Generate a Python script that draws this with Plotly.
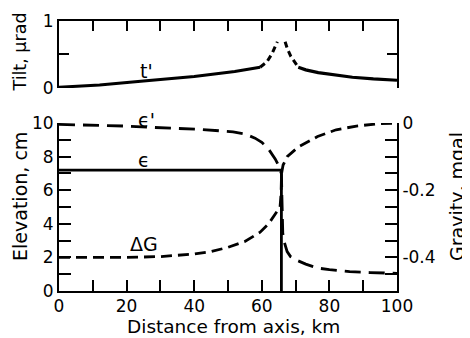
import plotly.graph_objects as go

# ---- data ----
# tilt t' (microradians), solid outer parts and dashed parts near the peak
tilt_left_x = [0, 12, 25, 40, 52, 56, 59.5]
tilt_left_y = [0.01, 0.045, 0.105, 0.17, 0.245, 0.28, 0.31]
tilt_dash_l_x = [59.5, 61.5, 63, 64, 64.6]
tilt_dash_l_y = [0.31, 0.39, 0.51, 0.61, 0.69]
tilt_dash_r_x = [66.9, 67.6, 68.6, 69.9, 70.8]
tilt_dash_r_y = [0.69, 0.58, 0.47, 0.38, 0.31]
tilt_right_x = [70.8, 73, 76.7, 81, 86.8, 93, 100]
tilt_right_y = [0.31, 0.27, 0.23, 0.195, 0.16, 0.135, 0.115]

# elevation eps' (cm)
epsp_x = [0, 10, 20, 28, 42, 51.5, 55, 58, 60, 62, 64, 65, 65.8, 65.95, 66.0, 66.2, 66.6, 67.5, 68.5, 70.7, 73, 76.4, 80, 86, 92, 100]
epsp_y = [9.92, 9.88, 9.82, 9.74, 9.62, 9.48, 9.35, 9.1, 8.85, 8.45, 7.85, 7.45, 7.0, 5.6, 4.2, 3.45, 2.95, 2.35, 2.05, 1.8, 1.6, 1.37, 1.27, 1.15, 1.1, 1.05]

# elevation eps (cm), step
eps_x = [0, 65.8, 65.8]
eps_y = [7.2, 7.2, 0]

# gravity dG (mgal)
dg_x = [0, 10, 20, 30, 40, 45, 50, 55, 59.5, 62, 64, 65.4, 65.7, 65.85, 66.3, 67.5, 70.7, 72, 76.5, 82, 88, 94, 100]
dg_y = [-0.4, -0.4, -0.4, -0.3975, -0.39, -0.3825, -0.37, -0.3525, -0.325, -0.30, -0.27, -0.25, -0.21, -0.15, -0.125, -0.10, -0.072, -0.065, -0.04, -0.02, -0.009, -0.0025, 0.0]

# ticks
x_ticks = list(range(0, 101, 10))
x_ticktext = [str(v) if v % 20 == 0 else "" for v in x_ticks]
elev_ticks = list(range(0, 11))
elev_ticktext = [str(v) if v % 2 == 0 else "" for v in elev_ticks]
grav_ticks = [-0.5, -0.45, -0.4, -0.35, -0.3, -0.25, -0.2, -0.15, -0.1, -0.05, 0.0]
grav_ticktext = ["", "", "-0.4", "", "", "", "-0.2", "", "", "", "0"]
tilt_ticks = [0, 0.5, 1]
tilt_ticktext = ["0", "", "1"]

FONT = "DejaVu Sans"
BLACK = "#000000"

fig = go.Figure()

# top panel
fig.add_trace(go.Scatter(x=tilt_left_x, y=tilt_left_y, xaxis="x2", yaxis="y2", mode="lines",
                         line=dict(color=BLACK, width=3), showlegend=False))
fig.add_trace(go.Scatter(x=tilt_dash_l_x, y=tilt_dash_l_y, xaxis="x2", yaxis="y2", mode="lines",
                         line=dict(color=BLACK, width=3, dash="6px,4px"), showlegend=False))
fig.add_trace(go.Scatter(x=tilt_dash_r_x, y=tilt_dash_r_y, xaxis="x2", yaxis="y2", mode="lines",
                         line=dict(color=BLACK, width=3, dash="6px,4px"), showlegend=False))
fig.add_trace(go.Scatter(x=tilt_right_x, y=tilt_right_y, xaxis="x2", yaxis="y2", mode="lines",
                         line=dict(color=BLACK, width=3.2), showlegend=False))

# bottom panel
fig.add_trace(go.Scatter(x=epsp_x, y=epsp_y, xaxis="x", yaxis="y", mode="lines",
                         line=dict(color=BLACK, width=2.8, dash="16px,8px"), showlegend=False))
fig.add_trace(go.Scatter(x=eps_x, y=eps_y, xaxis="x", yaxis="y", mode="lines",
                         line=dict(color=BLACK, width=2.8), showlegend=False))
fig.add_trace(go.Scatter(x=dg_x, y=dg_y, xaxis="x", yaxis="y3", mode="lines",
                         line=dict(color=BLACK, width=2.8, dash="11px,6px"), showlegend=False))

axis_common = dict(showgrid=False, zeroline=False, showline=True, linecolor=BLACK, linewidth=2,
                   ticks="inside", tickcolor=BLACK, tickwidth=2,
                   tickfont=dict(family=FONT, size=17, color=BLACK))

# the page body adds an 8px offset, so the figure is 8px smaller and margins shifted
fig.update_layout(
    width=462, height=330,
    margin=dict(l=51, r=73, t=13, b=47, autoexpand=False),
    paper_bgcolor="white", plot_bgcolor="white",
    xaxis=dict(domain=[0, 1], anchor="y", range=[0, 100], tickvals=x_ticks, ticktext=x_ticktext,
               ticklen=11, ticklabelstandoff=-1, **axis_common),
    yaxis=dict(domain=[0, 0.622], anchor="x", range=[0, 10], tickvals=elev_ticks, ticktext=elev_ticktext,
               ticklen=12, **axis_common),
    yaxis3=dict(overlaying="y", side="right", anchor="x", range=[-0.5, 0], tickvals=grav_ticks,
                ticktext=grav_ticktext, ticklen=12, **axis_common),
    xaxis2=dict(domain=[0, 1], anchor="y2", side="top", range=[0, 100], tickvals=x_ticks,
                showticklabels=False, ticklen=10, **axis_common),
    yaxis2=dict(domain=[0.752, 1], anchor="x2", range=[0, 1], tickvals=tilt_ticks, ticktext=tilt_ticktext,
                ticklen=10, mirror="ticks", **axis_common),
)

title_font = dict(family=FONT, size=19, color=BLACK)
annotations = [
    dict(text="Tilt, μrad", x=-0.1154, y=0.887, textangle=-90, font=dict(family=FONT, size=17.5, color=BLACK)),
    dict(text="Elevation, cm", x=-0.1154, y=0.352, textangle=-90, font=title_font),
    dict(text="Gravity, mgal", x=1.1775, y=0.352, textangle=-90, font=title_font),
    dict(text="Distance from axis, km", x=0.515, y=-0.1333, textangle=0,
         font=dict(family=FONT, size=18.5, color=BLACK)),
]
for a in annotations:
    fig.add_annotation(xref="paper", yref="paper", showarrow=False,
                       xanchor="center", yanchor="middle", **a)

label_font = dict(family=FONT, size=19, color=BLACK)
fig.add_annotation(x=26, y=0.25, xref="x2", yref="y2", text="t'", showarrow=False, font=label_font)
fig.add_annotation(x=25.8, y=0.635, xref="x", yref="paper", text="ϵ'", showarrow=False, font=label_font)
fig.add_annotation(x=25, y=7.8, xref="x", yref="y", text="ϵ", showarrow=False, font=label_font)
fig.add_annotation(x=25, y=2.8, xref="x", yref="y", text="ΔG", showarrow=False, font=label_font)

fig.write_html("out.html")
